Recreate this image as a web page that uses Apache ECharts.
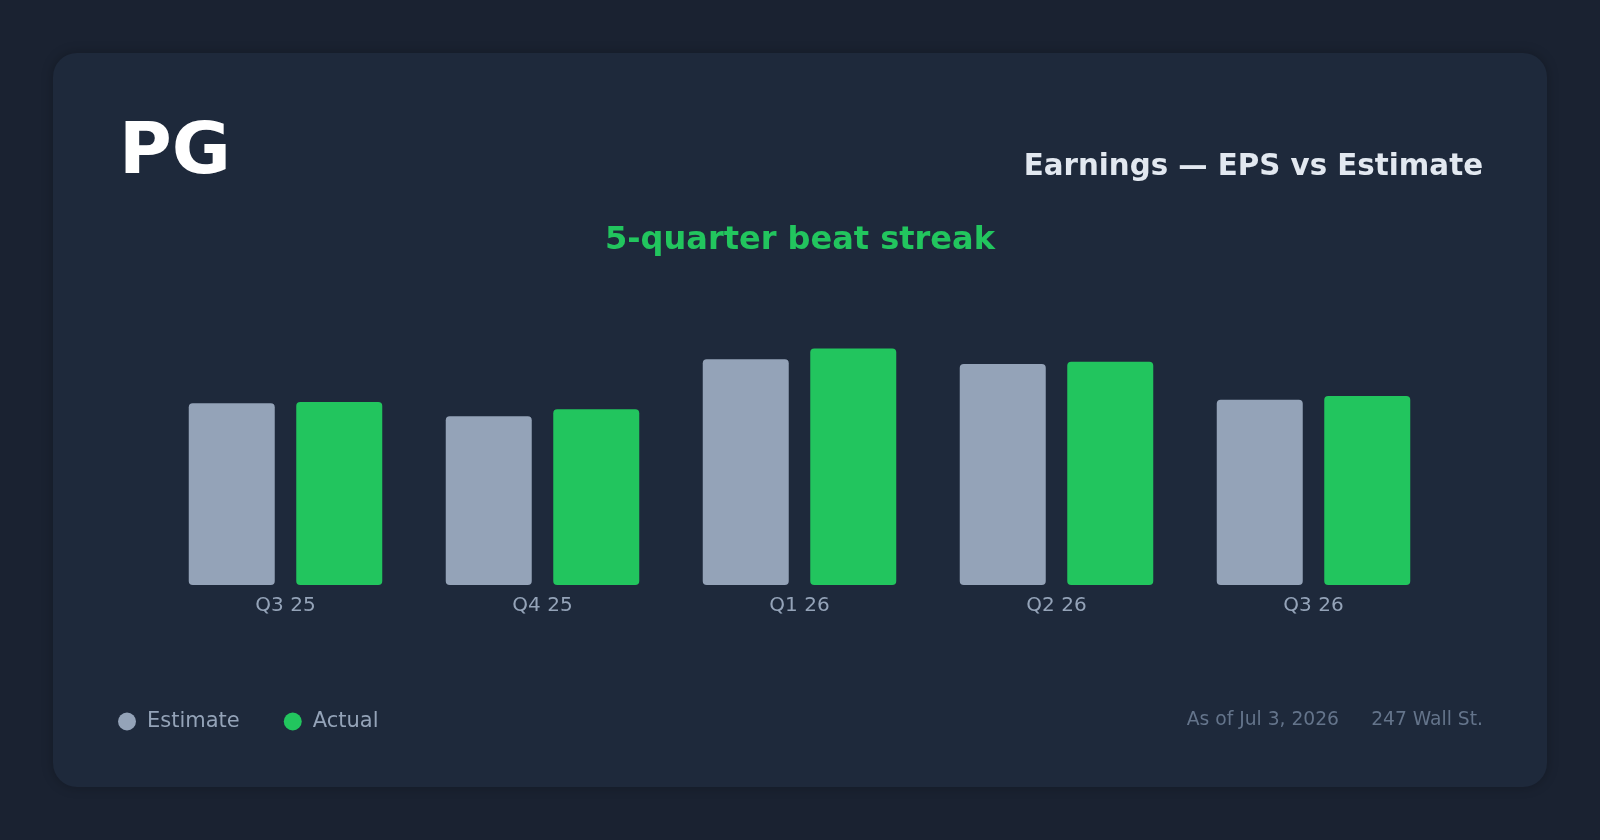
<!DOCTYPE html>
<html>
<head>
<meta charset="utf-8">
<title>PG Earnings — EPS vs Estimate</title>
<script src="https://cdn.jsdelivr.net/npm/echarts@6/dist/echarts.min.js"></script>
<style>
  html, body { margin: 0; padding: 0; background: #1a2231; }
  #chart { width: 1600px; height: 840px; }
</style>
</head>
<body>
<div id="chart"></div>
<script>
  // quarters and EPS
  const quarters = ['Q3 25', 'Q4 25', 'Q1 26', 'Q2 26', 'Q3 26']
  const estimate = [1.53, 1.42, 1.90, 1.86, 1.56]
  const actual = [1.54, 1.48, 1.99, 1.88, 1.59]

  const font = '"DejaVu Sans", Verdana, sans-serif'
  const chart = echarts.init(document.getElementById('chart'))

  chart.setOption({
    backgroundColor: '#1a2231',
    animation: false,
    textStyle: { fontFamily: font },
    graphic: [
      {
        type: 'rect', z: -10, silent: true,
        shape: { x: 53, y: 53, width: 1494, height: 734, r: 24 },
        style: { fill: '#1e293b', shadowBlur: 12, shadowColor: 'rgba(0,0,0,0.25)' }
      },
      {
        type: 'text', left: 119, top: 118,
        style: { text: 'PG', fill: '#ffffff', font: 'bold 72px ' + font }
      },
      {
        type: 'text', right: 117, top: 153,
        style: { text: 'Earnings — EPS vs Estimate', fill: '#e2e8f0', font: 'bold 29.3px ' + font }
      },
      {
        type: 'text', left: 'center', top: 225,
        style: { text: '5-quarter beat streak', fill: '#22c55e', font: 'bold 32px ' + font }
      },
      {
        type: 'text', right: 261, top: 711,
        style: { text: 'As of Jul 3, 2026', fill: '#64748b', font: '18.7px ' + font }
      },
      {
        type: 'text', right: 117, top: 711,
        style: { text: '247 Wall St.', fill: '#64748b', font: '18.7px ' + font }
      }
    ],
    legend: {
      left: 113,
      top: 706,
      icon: 'circle',
      itemWidth: 18,
      itemHeight: 18,
      itemGap: 44,
      textStyle: { color: '#94a3b8', fontSize: 21, padding: [0, 0, 0, 6] },
      data: ['Estimate', 'Actual']
    },
    grid: {
      left: 157,
      right: 158,
      top: 288,
      height: 297,
      containLabel: false
    },
    xAxis: {
      type: 'category',
      data: quarters,
      axisLine: { show: false },
      axisTick: { show: false },
      axisLabel: { color: '#94a3b8', fontSize: 20, margin: 11 }
    },
    yAxis: {
      type: 'value',
      min: 0,
      max: 2.5,
      show: false,
      splitLine: { show: false }
    },
    series: [
      {
        name: 'Estimate',
        type: 'bar',
        data: estimate,
        barWidth: 86,
        barGap: '25%',
        itemStyle: { color: '#94a3b8', borderRadius: 4 }
      },
      {
        name: 'Actual',
        type: 'bar',
        data: actual,
        barWidth: 86,
        itemStyle: { color: '#22c55e', borderRadius: 4 }
      }
    ]
  })
</script>
</body>
</html>
